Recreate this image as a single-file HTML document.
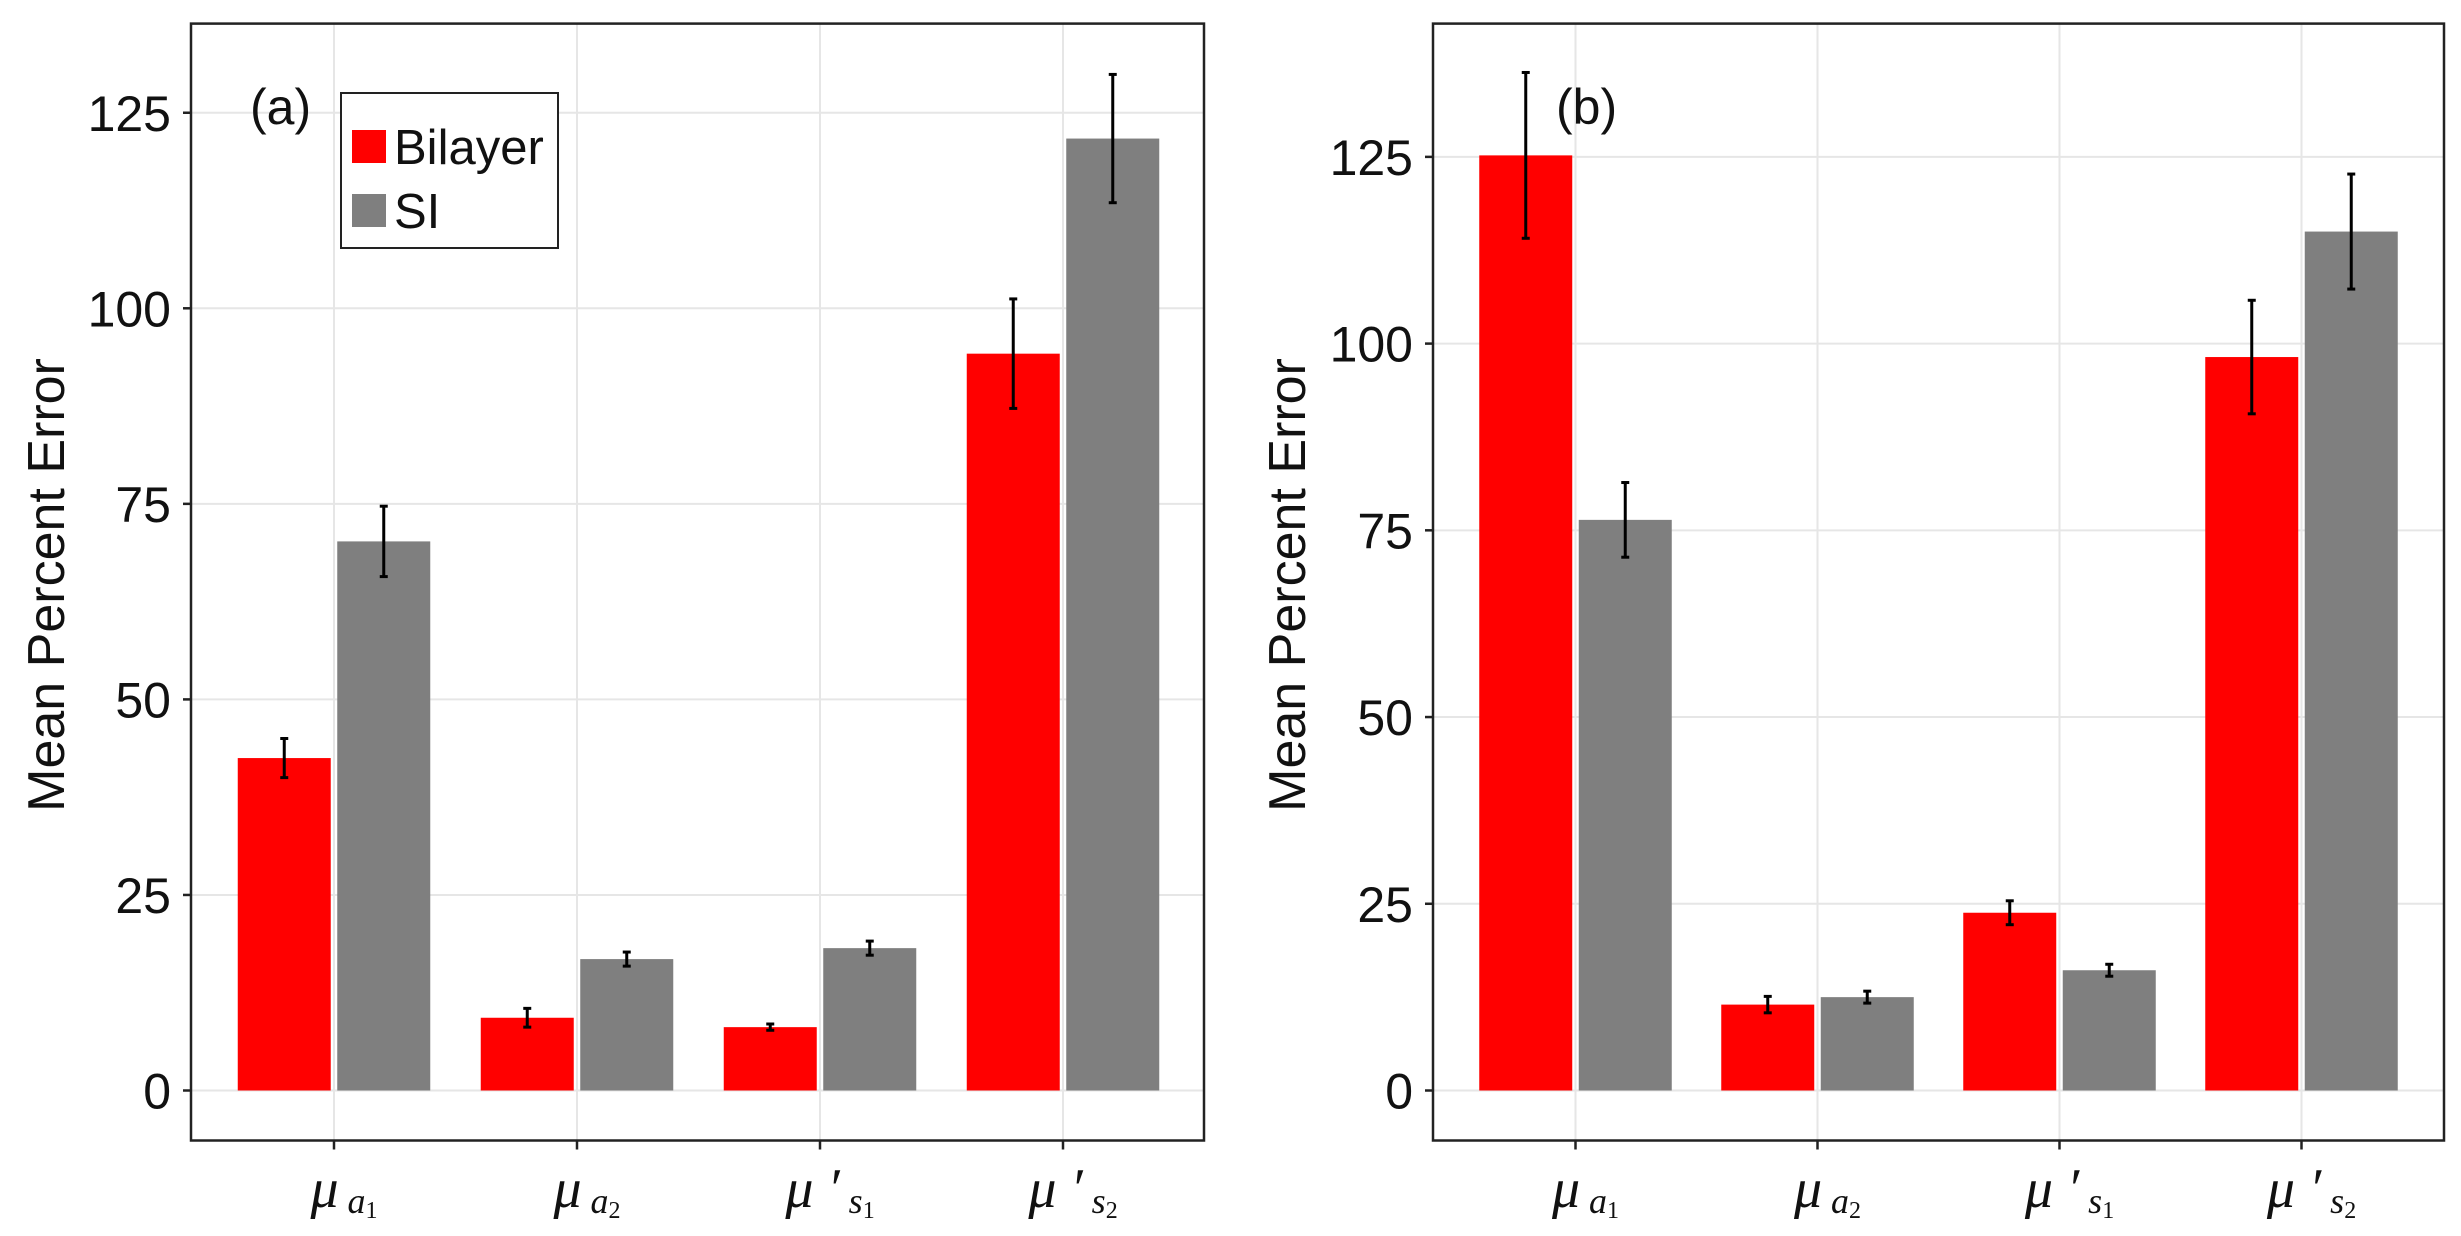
<!DOCTYPE html>
<html><head><meta charset="utf-8"><style>
html,body{margin:0;padding:0;background:#fff;}
svg{display:block;}
text{font-family:"Liberation Sans",sans-serif;}
.ml{font-family:"Liberation Serif",serif;font-style:italic;}
</style></head><body>
<svg id="fig" width="2461" height="1236" viewBox="0 0 2461 1236"></svg>
<script>
const categories = ["a1","a2","s1","s2"];
const tickValues = [0,25,50,75,100,125];
const aBilayer = [42.5, 9.3, 8.1, 94.2];
const aBilayerErr = [2.5, 1.2, 0.4, 7.0];
const aSI = [70.2, 16.8, 18.2, 121.7];
const aSIErr = [4.5, 0.9, 0.9, 8.2];
const bBilayer = [125.2, 11.5, 23.8, 98.2];
const bBilayerErr = [11.1, 1.1, 1.6, 7.6];
const bSI = [76.4, 12.5, 16.1, 115.0];
const bSIErr = [5.0, 0.8, 0.8, 7.7];

const NS = "http://www.w3.org/2000/svg";
const svg = document.getElementById('fig');
function mk(tag, attrs, parent){
  const e = document.createElementNS(NS, tag);
  for (const k in attrs) e.setAttribute(k, attrs[k]);
  (parent||svg).appendChild(e);
  return e;
}

function panel(cfg){
  const g = mk('g', {});
  
  
  const L=cfg.left, R=cfg.right, T=23.6, B=1140.5;
  const y = v => cfg.zeroY - v * cfg.ppu;
  const x0 = cfg.firstX;
  const cx = i => x0 + i * cfg.step;
  tickValues.forEach(t=>{
    const l = mk('line',{x1:L,x2:R,y1:y(t),y2:y(t),stroke:'#e6e6e6','stroke-width':2},g);
    
    
  });
  categories.forEach((c,i)=>{
    const l = mk('line',{x1:cx(i),x2:cx(i),y1:T,y2:B,stroke:'#e6e6e6','stroke-width':2},g);
    
    
  });
  const bw = 93, gap = 6.5;
  const drawBar = (i, v, err, col, side, series) => {
    const bx = side < 0 ? cx(i) - gap/2 - bw : cx(i) + gap/2;
    const r = mk('rect',{x:bx,y:y(v),width:bw,height:y(0)-y(v),fill:col},g);
    
    
    const ex = bx + bw/2;
    const e = mk('g',{stroke:'#000','stroke-width':3},g);
    
    
    mk('line',{x1:ex,x2:ex,y1:y(v-err),y2:y(v+err)},e);
    mk('line',{x1:ex-4,x2:ex+4,y1:y(v-err),y2:y(v-err)},e);
    mk('line',{x1:ex-4,x2:ex+4,y1:y(v+err),y2:y(v+err)},e);
  };
  categories.forEach((c,i)=>{
    drawBar(i, cfg.bil[i], cfg.bilE[i], '#ff0000', -1, 'bilayer');
    drawBar(i, cfg.si[i], cfg.siE[i], '#7f7f7f', 1, 'si');
  });
  const fr = mk('rect',{x:L,y:T,width:R-L,height:B-T,fill:'none',stroke:'#222','stroke-width':2.5},g);
  
  
  tickValues.forEach(t=>{
    mk('line',{x1:L-8,x2:L,y1:y(t),y2:y(t),stroke:'#222','stroke-width':2.5},g);
    const tx = mk('text',{x:L-20,y:y(t)+18,'font-size':50,'text-anchor':'end',fill:'#111'},g);
    tx.textContent = t;
    
    
  });
  const subs = [['a','1'],['a','2'],['s','1'],['s','2']];
  categories.forEach((c,i)=>{
    mk('line',{x1:cx(i),x2:cx(i),y1:B,y2:B+9,stroke:'#222','stroke-width':2.5},g);
    const tx = mk('text',{x:cx(i)+10,y:1207,'font-size':56,'text-anchor':'middle',class:'ml',fill:'#111'},g);
    
    
    const prime = (i>=2) ? ' \u2032' : '';
    tx.innerHTML = '<tspan>\u03bc' + prime + '</tspan><tspan font-size="36" dy="6"> ' + subs[i][0] + '</tspan><tspan font-size="24" dy="5" font-style="normal">' + subs[i][1] + '</tspan>';
  });
  const yl = mk('text',{x:0,y:0,'font-size':52,'text-anchor':'middle',fill:'#111',transform:'translate('+cfg.ylabX+',585) rotate(-90)'},g);
  yl.textContent = 'Mean Percent Error';
  
  
  const pl = mk('text',{x:cfg.labX,y:124,'font-size':50,fill:'#111'},g);
  pl.textContent = cfg.label;
  
  
  return g;
}

panel({id:'a',left:191,right:1204,zeroY:1090.5,ppu:7.822,firstX:334,step:243,
  bil:aBilayer,bilE:aBilayerErr,si:aSI,siE:aSIErr,ylabX:64,labX:250,label:'(a)'});
panel({id:'b',left:1433,right:2444,zeroY:1090.5,ppu:7.469,firstX:1575.5,step:242,
  bil:bBilayer,bilE:bBilayerErr,si:bSI,siE:bSIErr,ylabX:1305,labX:1556,label:'(b)'});

const lg = mk('g',{});


mk('rect',{x:341,y:93,width:217,height:155,fill:'#fff',stroke:'#222','stroke-width':2},lg);
const e1 = mk('g',{},lg);


mk('rect',{x:352,y:130,width:34,height:33,fill:'#ff0000'},e1);
const t1 = mk('text',{x:394,y:164,'font-size':49,fill:'#111'},e1); t1.textContent='Bilayer';
const e2 = mk('g',{},lg);


mk('rect',{x:352,y:194,width:34,height:33,fill:'#7f7f7f'},e2);
const t2 = mk('text',{x:394,y:228,'font-size':49,fill:'#111'},e2); t2.textContent='SI';
</script>
</body></html>
